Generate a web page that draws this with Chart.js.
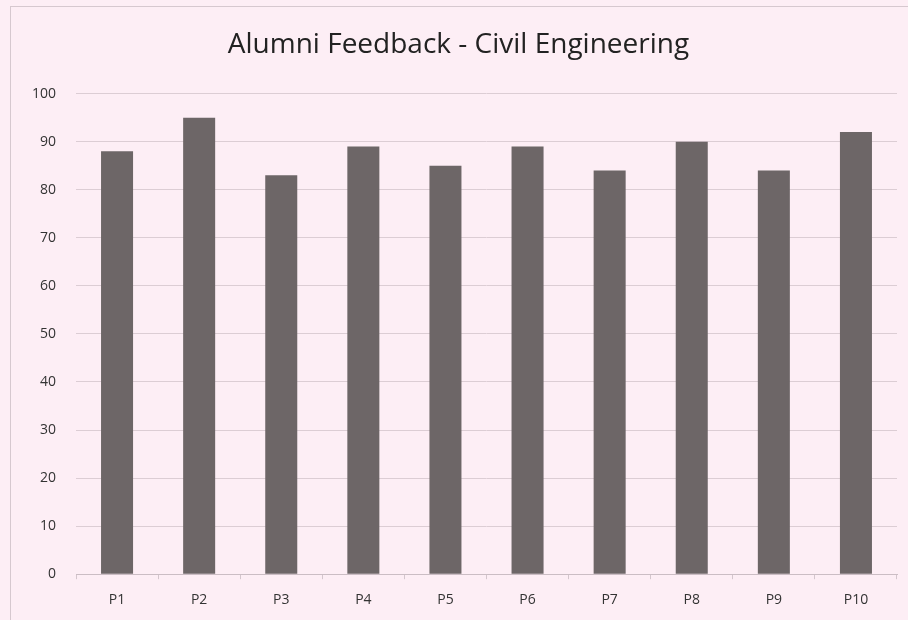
<!DOCTYPE html>
<html>
<head>
<meta charset="utf-8">
<script src="https://cdn.jsdelivr.net/npm/chart.js@4"></script>
<style>
  html, body { margin: 0; padding: 0; background: #fdeef5; }
  #wrap { position: relative; width: 908px; height: 620px; background: #fdeef5; }
  #frame { position: absolute; left: 10px; top: 6px; width: 920px; height: 640px; border: 1px solid #d6c8cf; box-sizing: border-box; }
  canvas { position: absolute; left: 0; top: 0; }
</style>
</head>
<body>
<div id="wrap">
  <div id="frame"></div>
  <canvas id="c" width="908" height="620"></canvas>
</div>
<script>
const categories = ["P1", "P2", "P3", "P4", "P5", "P6", "P7", "P8", "P9", "P10"];
const scores = [88, 95, 83, 89, 85, 89, 84, 90, 84, 92];
const yTicks = [0, 10, 20, 30, 40, 50, 60, 70, 80, 90, 100];
const chartTitle = "Alumni Feedback - Civil Engineering";

new Chart(document.getElementById("c"), {
  type: "bar",
  data: {
    labels: categories,
    datasets: [{
      data: scores,
      backgroundColor: "#6d6667",
      borderWidth: 0,
      barPercentage: 0.39,
      categoryPercentage: 1.0
    }]
  },
  options: {
    responsive: false,
    animation: false,
    layout: { padding: { left: 20, right: 11, top: 28, bottom: 0 } },
    plugins: {
      legend: { display: false },
      tooltip: { enabled: false },
      title: {
        display: true,
        text: chartTitle,
        color: "#222",
        font: { family: "Open Sans", size: 28, weight: "normal", lineHeight: 1.2 },
        padding: { top: 0, bottom: 32 }
      }
    },
    scales: {
      x: {
        grid: { display: true, drawOnChartArea: false, drawTicks: true, tickLength: 5, color: "#d4c6cd", offset: true },
        border: { display: true, color: "#cbbdc4", width: 1 },
        ticks: { color: "#333", font: { family: "Open Sans", size: 14 }, padding: 12 }
      },
      y: {
        min: 0, max: 100,
        afterBuildTicks: (axis) => { axis.ticks = yTicks.map(v => ({ value: v })); },
        afterFit: (axis) => { axis.width = 56; },
        grid: { color: "#dccdd4", drawTicks: false },
        border: { display: false },
        ticks: { color: "#333", font: { family: "Open Sans", size: 14 }, padding: 20 }
      }
    }
  }
});
</script>
</body>
</html>
